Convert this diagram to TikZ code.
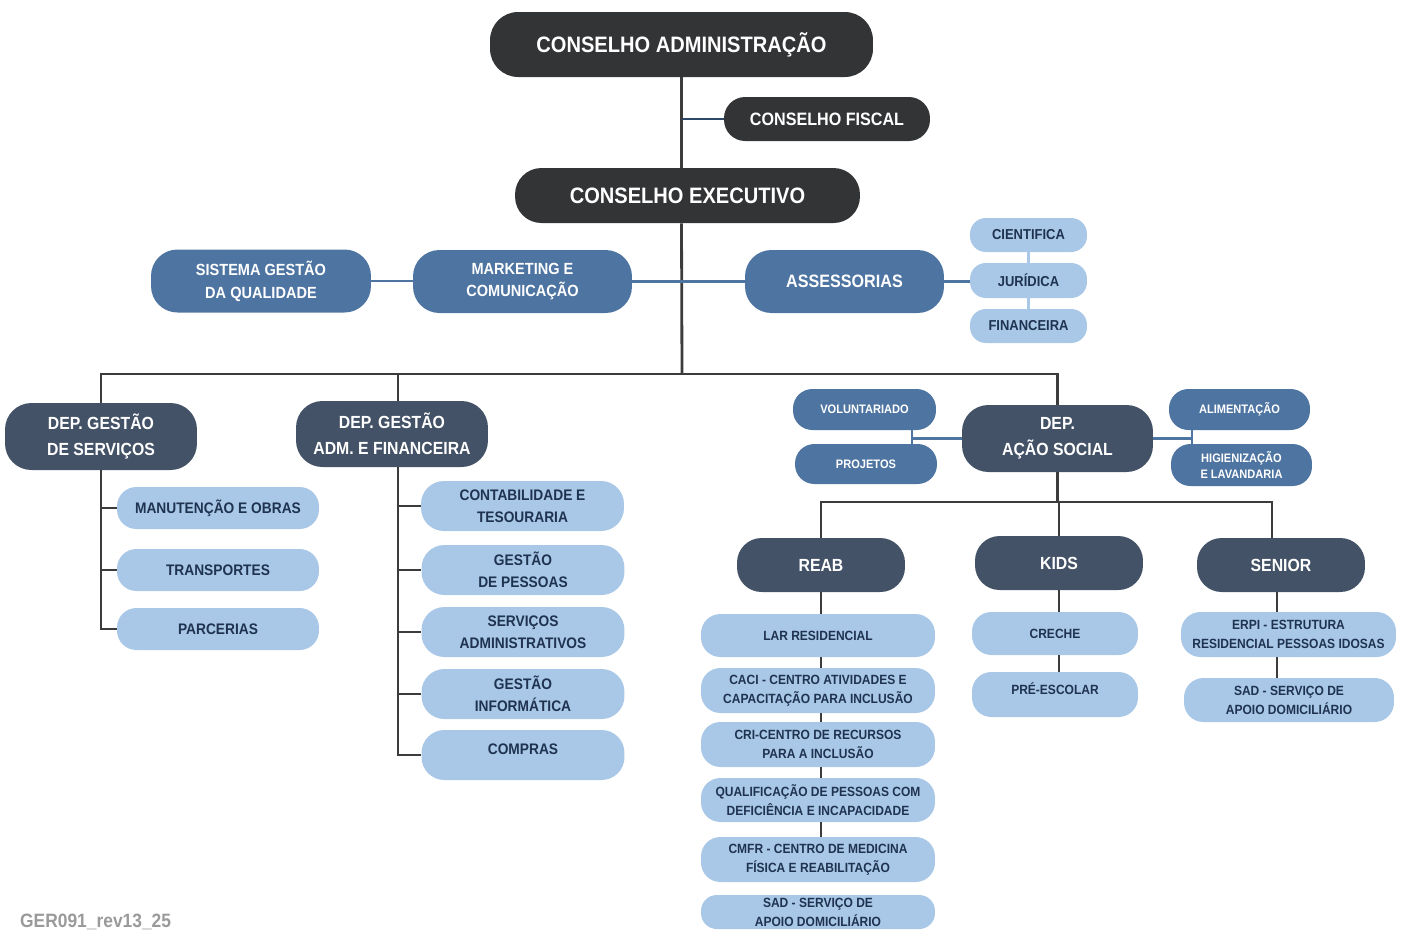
\documentclass[tikz,border=0pt]{standalone}
\usepackage{fontspec}
\setmainfont{Liberation Sans}[FakeStretch=0.9]
\definecolor{cDark}{HTML}{333436}
\definecolor{cSlate}{HTML}{435266}
\definecolor{cMid}{HTML}{4E74A1}
\definecolor{cLight}{HTML}{A9C8E8}
\definecolor{cNavy}{HTML}{1F3350}
\definecolor{cLine}{HTML}{3C3C3C}
\definecolor{cFiscal}{HTML}{2D4766}
\definecolor{cGray}{HTML}{9A9A9A}
\tikzset{
  box/.style={align=center, inner sep=0pt},
  darkbox/.style={box, fill=cDark, text=white, rounded corners=16pt},
  deptbox/.style={box, fill=cSlate, text=white, rounded corners=15pt},
  midbox/.style={box, fill=cMid, text=white, rounded corners=15pt},
  leafbox/.style={box, fill=cLight, text=cNavy, rounded corners=11pt},
  big/.style={font=\bfseries\fontsize{12.7}{15}\selectfont},
  large/.style={font=\bfseries\fontsize{10.2}{14.7}\selectfont},
  medium/.style={font=\bfseries\fontsize{9.2}{13}\selectfont},
  normal/.style={font=\bfseries\fontsize{8.7}{12.5}\selectfont},
  small/.style={font=\bfseries\fontsize{7.6}{10.8}\selectfont},
  tiny/.style={font=\bfseries\fontsize{7}{9.6}\selectfont},
  trunk/.style={draw=cLine, line width=1.6pt},
  link/.style={draw=cMid, line width=1.4pt},
  soft/.style={draw=cLight, line width=1.4pt},
}
\begin{document}
\begin{tikzpicture}[x=0.02cm, y=-0.02cm]
\useasboundingbox (0,0) rectangle (1404,931);

% conselhos
\node[darkbox, big, minimum width=7.66cm, minimum height=1.30cm] (adm) at (681.5,44.5) {CONSELHO ADMINISTRAÇÃO};
\node[darkbox, large, rounded corners=12pt, minimum width=4.12cm, minimum height=0.88cm] (fiscal) at (827,119) {CONSELHO FISCAL};
\node[darkbox, big, rounded corners=15pt, minimum width=6.9cm, minimum height=1.1cm] (exec) at (687.5,195.5) {CONSELHO EXECUTIVO};
\coordinate (bus) at (682,374);

% apoio ao executivo
\node[midbox, medium, minimum width=4.4cm, minimum height=1.26cm] (sgq) at (261,281) {SISTEMA GESTÃO\\DA QUALIDADE};
\node[midbox, medium, minimum width=4.38cm, minimum height=1.26cm] (mkt) at (522.5,281.5) {MARKETING E\\COMUNICAÇÃO};
\node[midbox, large, minimum width=3.98cm, minimum height=1.26cm] (ass) at (844.5,281.5) {ASSESSORIAS};
\node[leafbox, font=\bfseries\fontsize{8.2}{10}\selectfont, rounded corners=9pt, minimum width=2.34cm, minimum height=0.68cm] (cien) at (1028.5,235) {CIENTIFICA};
\node[leafbox, font=\bfseries\fontsize{8.2}{10}\selectfont, rounded corners=9pt, minimum width=2.34cm, minimum height=0.70cm] (jur) at (1028.5,280.5) {JURÍDICA};
\node[leafbox, font=\bfseries\fontsize{8.2}{10}\selectfont, rounded corners=9pt, minimum width=2.34cm, minimum height=0.68cm] (fin) at (1028.5,326) {FINANCEIRA};

% departamentos
\node[deptbox, font=\bfseries\fontsize{10}{14.7}\selectfont, minimum width=3.84cm, minimum height=1.34cm] (dgs) at (101,436.5) {DEP. GESTÃO\\DE SERVIÇOS};
\node[deptbox, font=\bfseries\fontsize{10}{14.7}\selectfont, minimum width=3.84cm, minimum height=1.32cm] (dgaf) at (392,434) {DEP. GESTÃO\\ADM. E FINANCEIRA};
\node[deptbox, font=\bfseries\fontsize{10}{14.7}\selectfont, minimum width=3.82cm, minimum height=1.34cm] (das) at (1057.5,438.5) {DEP.\\AÇÃO SOCIAL};

% dep. gestao de servicos
\node[leafbox, normal, minimum width=4.04cm, minimum height=0.84cm] (manut) at (218,508) {MANUTENÇÃO E OBRAS};
\node[leafbox, normal, minimum width=4.04cm, minimum height=0.84cm] (transp) at (218,570) {TRANSPORTES};
\node[leafbox, normal, minimum width=4.04cm, minimum height=0.84cm] (parc) at (218,629) {PARCERIAS};

% dep. gestao adm. e financeira
\node[leafbox, normal, rounded corners=13pt, minimum width=4.06cm, minimum height=1.0cm] (contab) at (522.5,506) {CONTABILIDADE E\\TESOURARIA};
\node[leafbox, normal, rounded corners=13pt, minimum width=4.06cm, minimum height=1.0cm] (pessoas) at (523,570) {GESTÃO\\DE PESSOAS};
\node[leafbox, normal, rounded corners=13pt, minimum width=4.06cm, minimum height=1.0cm] (servadm) at (523,632) {SERVIÇOS\\ADMINISTRATIVOS};
\node[leafbox, normal, rounded corners=13pt, minimum width=4.06cm, minimum height=1.0cm] (informat) at (523,694) {GESTÃO\\INFORMÁTICA};
\node[leafbox, normal, rounded corners=13pt, minimum width=4.06cm, minimum height=1.0cm, text depth=0.22cm] (compras) at (523,755) {COMPRAS};

% dep. acao social
\node[midbox, tiny, rounded corners=11pt, minimum width=2.86cm, minimum height=0.82cm] (vol) at (864.5,409.5) {VOLUNTARIADO};
\node[midbox, tiny, rounded corners=11pt, minimum width=2.84cm, minimum height=0.80cm] (proj) at (866,464) {PROJETOS};
\node[midbox, tiny, rounded corners=11pt, minimum width=2.82cm, minimum height=0.82cm] (alim) at (1239.5,409.5) {ALIMENTAÇÃO};
\node[midbox, tiny, rounded corners=11pt, minimum width=2.82cm, minimum height=0.84cm] (hig) at (1241.5,465) {HIGIENIZAÇÃO\\E LAVANDARIA};

\node[deptbox, font=\bfseries\fontsize{10}{12}\selectfont, rounded corners=14pt, minimum width=3.36cm, minimum height=1.08cm] (reab) at (821,565) {REAB};
\node[deptbox, font=\bfseries\fontsize{10}{12}\selectfont, rounded corners=14pt, minimum width=3.36cm, minimum height=1.08cm] (kids) at (1059,563) {KIDS};
\node[deptbox, font=\bfseries\fontsize{10}{12}\selectfont, rounded corners=14pt, minimum width=3.36cm, minimum height=1.08cm] (senior) at (1281,565) {SENIOR};
\coordinate (sbus) at (1060,502);

\node[leafbox, small, minimum width=4.68cm, minimum height=0.86cm] (lar) at (818,635.5) {LAR RESIDENCIAL};
\node[leafbox, small, minimum width=4.68cm, minimum height=0.90cm] (caci) at (818,690.5) {CACI - CENTRO ATIVIDADES E\\CAPACITAÇÃO PARA INCLUSÃO};
\node[leafbox, small, minimum width=4.68cm, minimum height=0.90cm] (cri) at (818,744.5) {CRI-CENTRO DE RECURSOS\\PARA A INCLUSÃO};
\node[leafbox, small, minimum width=4.68cm, minimum height=0.88cm] (qual) at (818,800) {QUALIFICAÇÃO DE PESSOAS COM\\DEFICIÊNCIA E INCAPACIDADE};
\node[leafbox, small, minimum width=4.68cm, minimum height=0.90cm] (cmfr) at (818,859.5) {CMFR - CENTRO DE MEDICINA\\FÍSICA E REABILITAÇÃO};
\node[leafbox, small, rounded corners=9pt, minimum width=4.68cm, minimum height=0.68cm] (sadreab) at (818,912) {SAD - SERVIÇO DE\\APOIO DOMICILIÁRIO};

\node[leafbox, small, minimum width=3.32cm, minimum height=0.86cm] (creche) at (1055,633.5) {CRECHE};
\node[leafbox, small, minimum width=3.32cm, minimum height=0.90cm, text depth=0.25cm] (pre) at (1055,694.5) {PRÉ-ESCOLAR};

\node[leafbox, small, minimum width=4.3cm, minimum height=0.90cm] (erpi) at (1288.5,634.5) {ERPI - ESTRUTURA\\RESIDENCIAL PESSOAS IDOSAS};
\node[leafbox, small, minimum width=4.2cm, minimum height=0.88cm] (sadsen) at (1289,700) {SAD - SERVIÇO DE\\APOIO DOMICILIÁRIO};

\node[anchor=west, text=cGray, font=\bfseries\fontsize{11}{13}\selectfont] (ref) at (14,922) {GER091\_rev13\_25};

% ligacoes
\draw[trunk] (adm.south) -- (adm.south |- exec.north);
\draw[trunk] (adm.south |- exec.south) -- (bus);
\draw[draw=cFiscal, line width=1.4pt] (adm.south |- fiscal.west) -- (fiscal.west);
\draw[link] (sgq.east) -- (sgq.east -| mkt.west);
\draw[link] (mkt.east) -- (ass.west);
\draw[link] (ass.east) -- (ass.east -| jur.west);
\draw[soft] (cien.south) -- (jur.north);
\draw[soft] (jur.south) -- (fin.north);

\draw[trunk] (dgs.north) -- (dgs.north |- bus) -- (das.north |- bus) -- (das.north);
\draw[trunk] ([xshift=0.12cm]dgaf.north) -- ([xshift=0.12cm]dgaf.north |- bus);

\draw[trunk] (dgs.south) |- (parc.west);
\foreach \n in {manut,transp}
  \draw[trunk] (dgs.south |- \n.west) -- (\n.west);
\draw[trunk] ([xshift=0.12cm]dgaf.south) |- (compras.west);
\foreach \n in {contab,pessoas,servadm,informat}
  \draw[trunk] ([xshift=0.12cm]dgaf.south |- \n.west) -- (\n.west);

\draw[link] ([xshift=0.95cm]vol.south) -- ([xshift=0.95cm]vol.south |- proj.north);
\draw[link] (das.west) -- ([xshift=0.95cm]vol.south |- das.west);
\draw[link] ([xshift=-0.95cm]alim.south) -- ([xshift=-0.95cm]alim.south |- hig.north);
\draw[link] (das.east) -- ([xshift=-0.95cm]alim.south |- das.east);

\draw[trunk] (das.south) -- (das.south |- sbus);
\draw[trunk] (reab.north) -- (reab.north |- sbus) -- ([xshift=-0.18cm]senior.north |- sbus) -- ([xshift=-0.18cm]senior.north);
\draw[trunk] (kids.north) -- (kids.north |- sbus);

\foreach \a/\b in {reab/lar,lar/caci,caci/cri,cri/qual,qual/cmfr}
  \draw[trunk] (\a.south -| reab.south) -- (\b.north -| reab.south);
\draw[trunk] (kids.south) -- (creche.north -| kids.south);
\draw[trunk] (creche.south -| kids.south) -- (pre.north -| kids.south);
\draw[trunk] ([xshift=-0.08cm]senior.south) -- ([xshift=-0.08cm]senior.south |- erpi.north);
\draw[trunk] ([xshift=-0.08cm]senior.south |- erpi.south) -- ([xshift=-0.08cm]senior.south |- sadsen.north);
\end{tikzpicture}
\end{document}
